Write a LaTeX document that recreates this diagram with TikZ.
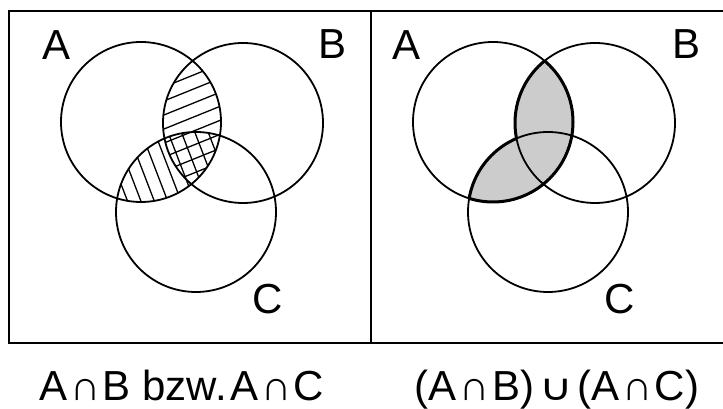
\documentclass[tikz,border=0pt]{standalone}
\usepackage{fontspec}
\setmainfont{Liberation Sans}
\newfontfamily\dvsans{DejaVu Sans}
\newcommand\mycap{\hspace{2.5pt}∩\hspace{2.5pt}}
\newcommand\mycup{\hspace{5pt}\scalebox{1}[0.8]{\dvsans\fontsize{46}{46}\selectfont ∪}\hspace{5pt}}
\usetikzlibrary{calc}
\begin{document}
\begin{tikzpicture}[x=1pt,y=1pt,
  circ/.style={line width=1.8pt},
  hatch/.style={line width=1.3pt},
  lbl/.style={font=\fontsize{42}{42}\selectfont, inner sep=0pt},
  captext/.style={font=\fontsize{42}{42}\selectfont, inner sep=0pt, anchor=base}]
\useasboundingbox (0,0) rectangle (723,409);
% centres
\coordinate (A1) at (141,287);
\coordinate (B1) at (243,286);
\coordinate (C1) at (196,197);
\coordinate (A2) at (493,287);
\coordinate (B2) at (595,286);
\coordinate (C2) at (548,197);
\def\R{80}
% frame
\draw[line width=2.6pt] (9,398) rectangle (740,66);
\draw[line width=2.6pt] (371,398) -- (371,66);
% left hatching A cap B
\begin{scope}
  \clip (A1) circle (\R);
  \clip (B1) circle (\R);
  \begin{scope}[shift={(192,287)}, rotate=22]
    \foreach \k in {-8,...,8} \draw[hatch] (-120,\k*13+4) -- (120,\k*13+4);
  \end{scope}
\end{scope}
% left hatching A cap C
\begin{scope}
  \clip (A1) circle (\R);
  \clip (C1) circle (\R);
  \begin{scope}[shift={(168,242)}, rotate=-69]
    \foreach \k in {-8,...,8} \draw[hatch] (-120,\k*12.5) -- (120,\k*12.5);
  \end{scope}
\end{scope}
\draw[circ] (A1) circle (\R);
\draw[circ] (B1) circle (\R);
\draw[circ] (C1) circle (\R);
% right fill
\begin{scope}
  \clip (A2) circle (\R);
  \fill[black!20] (B2) circle (\R) (C2) circle (\R);
\end{scope}
\draw[circ] (A2) circle (\R);
\draw[circ] (B2) circle (\R);
\draw[circ] (C2) circle (\R);
% thick outline of the shaded region
\begin{scope}
  \clip (B2) circle (\R) (C2) circle (\R);
  \draw[line width=3pt] (A2) circle (\R);
\end{scope}
\begin{scope}[even odd rule]
  \clip (A2) circle (\R);
  \clip (0,0) rectangle (723,409) (C2) circle (\R);
  \draw[line width=3pt] (B2) circle (\R);
\end{scope}
\begin{scope}[even odd rule]
  \clip (A2) circle (\R);
  \clip (0,0) rectangle (723,409) (B2) circle (\R);
  \draw[line width=3pt] (C2) circle (\R);
\end{scope}
% labels
\node[lbl] (la1) at (57,364) {A};
\node[lbl] (lb1) at (333,365) {B};
\node[lbl] (lc1) at (268,110) {C};
\node[lbl] (la2) at (407,364) {A};
\node[lbl] (lb2) at (686,365) {B};
\node[lbl] (lc2) at (620,110) {C};
\node[captext] (t1) at (182,8) {A\mycap B bzw.\hspace{4pt}A\mycap C};
\node[captext] (t2) at (557,8) {(A\mycap B)\mycup(A\mycap C)};
\end{tikzpicture}
\end{document}
